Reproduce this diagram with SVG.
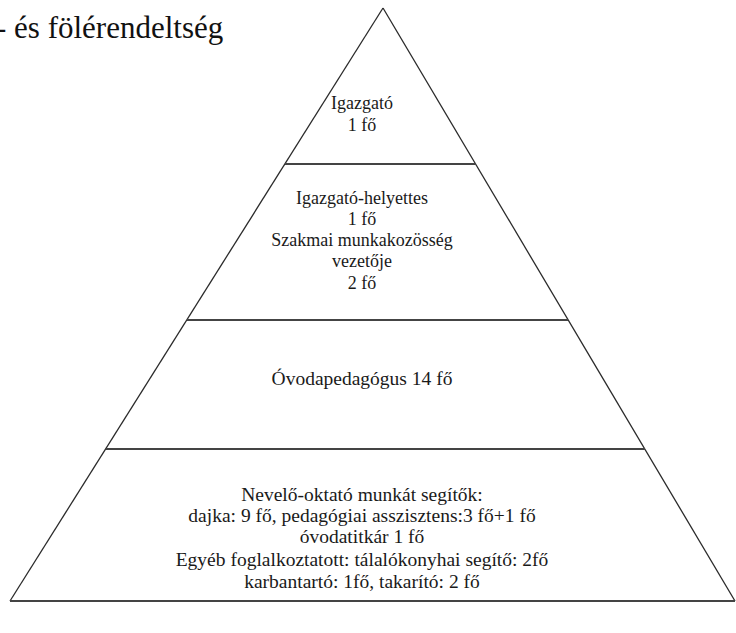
<svg xmlns="http://www.w3.org/2000/svg" width="736" height="633" viewBox="0 0 736 633">
<style>
.t{font-family:"Liberation Serif","Times New Roman",serif;font-size:18px;fill:#1a1a1a;text-anchor:middle}
.u{font-size:19.5px}
.h{font-family:"Liberation Serif","Times New Roman",serif;font-size:31px;fill:#111}
.e{fill:none;stroke:#2a2a2a;stroke-width:1.3}
.b{fill:none;stroke:#444;stroke-width:2}
</style>
<rect width="736" height="633" fill="#fff"/>
<text class="h" x="-4" y="38">- és fölérendeltség</text>
<g id="connectors">
<line class="e" x1="383" y1="8" x2="10" y2="601"/>
<line class="e" x1="383" y1="8" x2="735" y2="601"/>
<line class="b" x1="285" y1="164" x2="476" y2="164"/>
<line class="b" x1="187" y1="320" x2="568" y2="320"/>
<line class="b" x1="106" y1="449" x2="645" y2="449"/>
<line class="b" x1="10" y1="601" x2="735" y2="601"/>
</g>
<g id="igazgato">
<text class="t" x="362" y="109">Igazgató</text>
<text class="t" x="362" y="131">1 fő</text>
</g>
<g id="helyettes">
<text class="t" x="362" y="204">Igazgató-helyettes</text>
<text class="t" x="362" y="225">1 fő</text>
<text class="t" x="362" y="246">Szakmai munkakozösség</text>
<text class="t" x="362" y="267">vezetője</text>
<text class="t" x="362" y="289">2 fő</text>
</g>
<g id="ovodapedagogus">
<text class="t u" x="362" y="385">Óvodapedagógus 14 fő</text>
</g>
<g id="segitok">
<text class="t u" x="362" y="501">Nevelő-oktató munkát segítők:</text>
<text class="t u" x="362" y="522">dajka: 9 fő, pedagógiai asszisztens:3 fő+1 fő</text>
<text class="t u" x="362" y="543">óvodatitkár 1 fő</text>
<text class="t u" x="362" y="566">Egyéb foglalkoztatott: tálalókonyhai segítő: 2fő</text>
<text class="t u" x="362" y="588">karbantartó: 1fő, takarító: 2 fő</text>
</g>
</svg>
